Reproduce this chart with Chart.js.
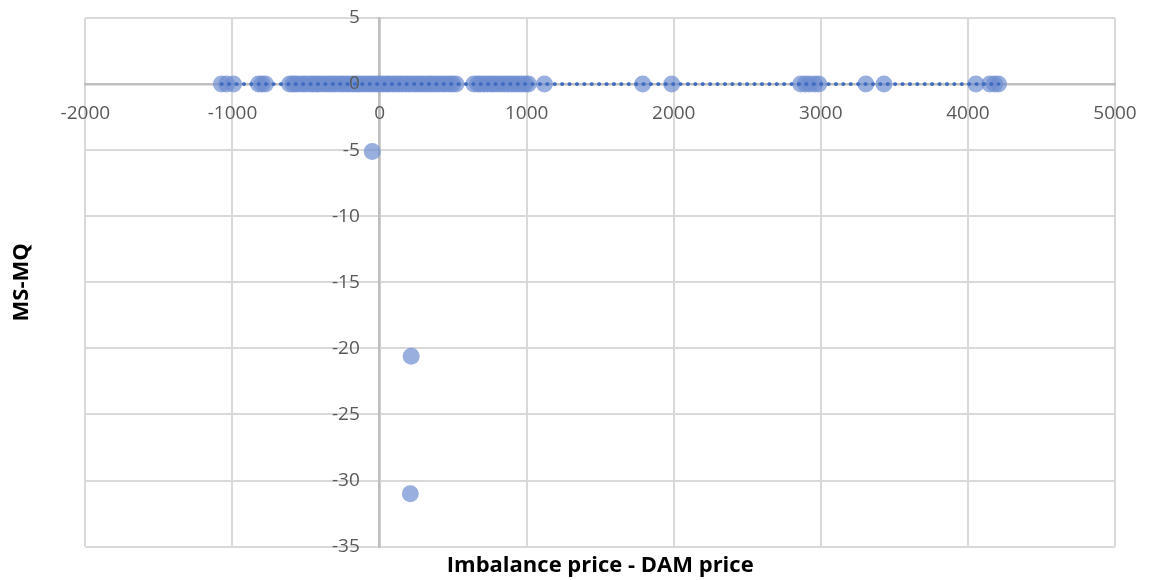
<!DOCTYPE html>
<html>
<head>
<meta charset="utf-8">
<script src="https://cdn.jsdelivr.net/npm/chart.js@4/dist/chart.umd.min.js"></script>
<style>
  html, body { margin: 0; padding: 0; background: #ffffff; }
  #wrap { width: 1150px; height: 580px; position: relative; }
</style>
</head>
<body>
<div id="wrap"><canvas id="chart"></canvas></div>
<script>
// Imbalance price minus day-ahead price (x) against MS-MQ (y)
const priceDiff = [
  -1075, -1040, -993, -823, -800, -776, -612, -590, -571, -548,
  -522, -503, -476, -455, -431, -414, -388, -362, -341, -317,
  -296, -270, -249, -226, -204, -181, -158, -139, -115, -92,
  -70, -47, -24, -3, 21, 44, 63, 88, 109, 133,
  152, 178, 199, 224, 246, 269, 291, 313, 338, 357,
  382, 404, 429, 451, 476, 497, 519, 641, 666, 684,
  709, 733, 758, 779, 802, 828, 851, 873, 897, 921,
  944, 968, 991, 1012, 1121, 1789, 1986, 2863, 2894, 2922,
  2957, 2986, 3306, 3429, 4054, 4148, 4181, 4208, -50, 215,
  209
];
const msMq = [
  0, 0, 0, 0, 0, 0, 0, 0, 0, 0,
  0, 0, 0, 0, 0, 0, 0, 0, 0, 0,
  0, 0, 0, 0, 0, 0, 0, 0, 0, 0,
  0, 0, 0, 0, 0, 0, 0, 0, 0, 0,
  0, 0, 0, 0, 0, 0, 0, 0, 0, 0,
  0, 0, 0, 0, 0, 0, 0, 0, 0, 0,
  0, 0, 0, 0, 0, 0, 0, 0, 0, 0,
  0, 0, 0, 0, 0, 0, 0, 0, 0, 0,
  0, 0, 0, 0, 0, 0, 0, 0, -5.1, -20.6,
  -31.0
];

// Linear trendline endpoints
const trendX = [-1075, 4208];
const trendY = [0, 0];

// Axis ranges and steps
const xRange = [-2000, 5000];
const xStep = 1000;
const yRange = [-35, 5];
const yStep = 5;

const points = priceDiff.map((x, i) => ({ x: x, y: msMq[i] }));
const trend = trendX.map((x, i) => ({ x: x, y: trendY[i] }));

const tickFont = { family: "'Open Sans', sans-serif", size: 19 };
const titleFont = { family: "'Open Sans', sans-serif", size: 22, weight: 'bold' };

new Chart(document.getElementById('chart'), {
  type: 'scatter',
  data: {
    datasets: [
      {
        label: 'Trend',
        type: 'line',
        data: trend,
        order: 0,
        borderColor: '#3F6BC0',
        borderWidth: 3.6,
        borderDash: [0.6, 6.8],
        borderCapStyle: 'round',
        pointRadius: 0,
        fill: false
      },
      {
        label: 'MS-MQ',
        data: points,
        order: 1,
        backgroundColor: 'rgba(110,141,208,0.7)',
        borderWidth: 0,
        pointRadius: 8.5
      }
    ]
  },
  options: {
    responsive: true,
    maintainAspectRatio: false,
    animation: false,
    layout: { padding: { top: 18, right: 35, left: 0, bottom: 0 } },
    plugins: {
      legend: { display: false },
      tooltip: { enabled: false },
      title: {
        display: true,
        text: 'Imbalance price - DAM price',
        position: 'bottom',
        fullSize: false,
        color: '#000000',
        font: titleFont,
        padding: { top: 6, bottom: 1 }
      },
      subtitle: {
        display: true,
        text: 'MS-MQ',
        position: 'left',
        fullSize: false,
        color: '#000000',
        font: titleFont,
        padding: { top: 9, bottom: 50 }
      }
    },
    scales: {
      x: {
        type: 'linear',
        position: { y: 0 },
        min: xRange[0],
        max: xRange[1],
        afterFit: (s) => { s.paddingLeft = 0; s.paddingRight = 0; },
        ticks: {
          stepSize: xStep, color: '#595959', font: tickFont, padding: 18, z: 1,
          callback: (v) => String(v)
        },
        grid: { color: '#d9d9d9', lineWidth: 2, drawTicks: false },
        border: { display: true, color: '#bfbfbf', width: 2.5 }
      },
      y: {
        type: 'linear',
        position: { x: 0 },
        min: yRange[0],
        max: yRange[1],
        afterFit: (s) => { s.paddingTop = 0; s.paddingBottom = 0; },
        ticks: {
          stepSize: yStep, color: '#595959', font: tickFont, z: 1,
          // trailing spaces keep the labels clear of the vertical axis line
          callback: (v) => String(v) + '    '
        },
        grid: { color: '#d9d9d9', lineWidth: 2, drawTicks: false },
        border: { display: true, color: '#bfbfbf', width: 2.5 }
      }
    }
  }
});
</script>
</body>
</html>
